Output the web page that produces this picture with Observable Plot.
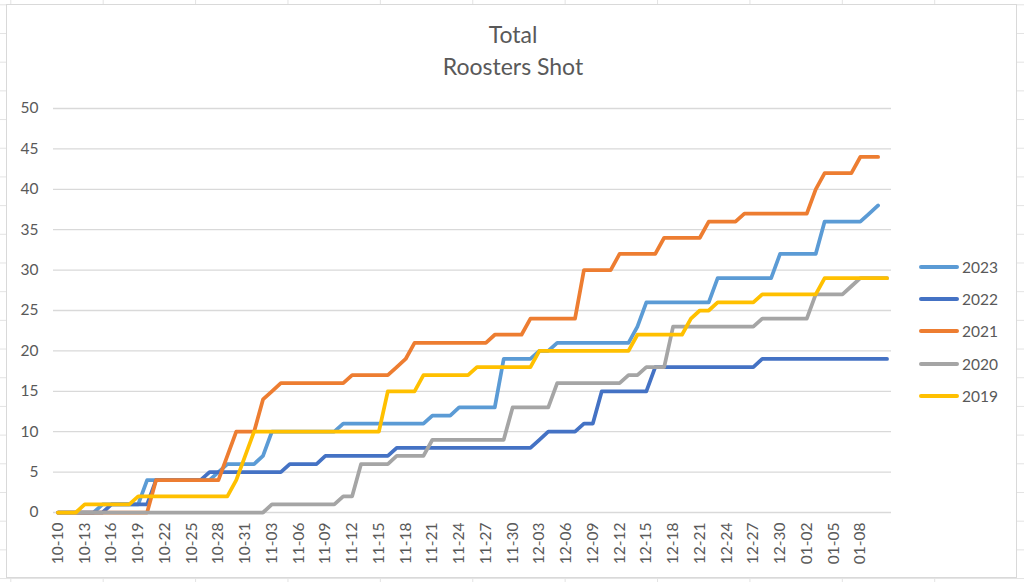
<!DOCTYPE html>
<html>
<head>
<meta charset="utf-8">
<script src="https://cdn.jsdelivr.net/npm/d3@7"></script>
<script src="https://cdn.jsdelivr.net/npm/@observablehq/plot@0.6"></script>
<style>
  html, body { margin: 0; padding: 0; }
  body {
    width: 1024px; height: 582px; position: relative; overflow: hidden;
    background-color: #fff;
    background-image:
      linear-gradient(to right, #e3e3e3 1px, transparent 1px),
      linear-gradient(to bottom, #e3e3e3 1px, transparent 1px);
    background-size: 92.4px 100%, 100% 28.7px;
    background-position: 10.3px 0, 0 4.3px;
    font-family: Lato, "Open Sans", sans-serif;
  }
  #frame {
    position: absolute; left: 6px; top: 4px; width: 1009px; height: 572px;
    background: #fff; border: 1px solid #d9d9d9;
  }
  .title {
    position: absolute; left: 0; width: 1026px; text-align: center;
    font-size: 23px; line-height: 32px; color: #595959;
  }
  #chart { position: absolute; left: 0; top: 90px; }
  #legend { position: absolute; left: 919px; top: 250.5px; }
  .item { display: flex; align-items: center; height: 32.3px; }
  .sw { width: 40px; height: 4px; border-radius: 2px; margin-right: 3px; }
  .lab { font-size: 15.5px; color: #595959; }
</style>
</head>
<body>
<div id="frame"></div>
<div class="title" style="top:18.4px">Total</div>
<div class="title" style="top:50.4px">Roosters Shot</div>
<div id="chart"></div>
<div id="legend"></div>
<script>
// Daily categories 10-10 .. 01-11
const dates = d3.utcDay.range(new Date(Date.UTC(2022, 9, 10)), new Date(Date.UTC(2023, 0, 12)))
  .map(d3.utcFormat("%m-%d"));

const tickLabels = ["10-10","10-13","10-16","10-19","10-22","10-25","10-28","10-31",
  "11-03","11-06","11-09","11-12","11-15","11-18","11-21","11-24","11-27","11-30",
  "12-03","12-06","12-09","12-12","12-15","12-18","12-21","12-24","12-27","12-30",
  "01-02","01-05","01-08"];

const yTicks = [0, 5, 10, 15, 20, 25, 30, 35, 40, 45, 50];

const seriesNames = ["2023", "2022", "2021", "2020", "2019"];
const seriesColors = ["#5B9BD5", "#4472C4", "#ED7D31", "#A5A5A5", "#FFC000"];

const s2023 = [
  0,0,0,0,0,1,1,1,1,1,
  4,4,4,4,4,4,4,4,5,6,
  6,6,6,7,10,10,10,10,10,10,
  10,10,11,11,11,11,11,11,11,11,
  11,11,12,12,12,13,13,13,13,13,
  19,19,19,19,20,20,21,21,21,21,
  21,21,21,21,21,23,26,26,26,26,
  26,26,26,26,29,29,29,29,29,29,
  29,32,32,32,32,32,36,36,36,36,
  36,37,38,null];

const s2022 = [
  0,0,0,0,0,0,1,1,1,1,
  1,4,4,4,4,4,4,5,5,5,
  5,5,5,5,5,5,6,6,6,6,
  7,7,7,7,7,7,7,7,8,8,
  8,8,8,8,8,8,8,8,8,8,
  8,8,8,8,9,10,10,10,10,11,
  11,15,15,15,15,15,15,18,18,18,
  18,18,18,18,18,18,18,18,18,19,
  19,19,19,19,19,19,19,19,19,19,
  19,19,19,19];

const s2021 = [
  0,0,0,0,0,0,0,0,0,0,
  0,4,4,4,4,4,4,4,4,7,
  10,10,10,14,15,16,16,16,16,16,
  16,16,16,17,17,17,17,17,18,19,
  21,21,21,21,21,21,21,21,21,22,
  22,22,22,24,24,24,24,24,24,30,
  30,30,30,32,32,32,32,32,34,34,
  34,34,34,36,36,36,36,37,37,37,
  37,37,37,37,37,40,42,42,42,42,
  44,44,44,null];

const s2020 = [
  0,0,0,0,0,0,0,0,0,0,
  0,0,0,0,0,0,0,0,0,0,
  0,0,0,0,1,1,1,1,1,1,
  1,1,2,2,6,6,6,6,7,7,
  7,7,9,9,9,9,9,9,9,9,
  9,13,13,13,13,13,16,16,16,16,
  16,16,16,16,17,17,18,18,18,23,
  23,23,23,23,23,23,23,23,23,24,
  24,24,24,24,24,27,27,27,27,28,
  29,29,29,29];

const s2019 = [
  0,0,0,1,1,1,1,1,1,2,
  2,2,2,2,2,2,2,2,2,2,
  4,7,10,10,10,10,10,10,10,10,
  10,10,10,10,10,10,10,15,15,15,
  15,17,17,17,17,17,17,18,18,18,
  18,18,18,18,20,20,20,20,20,20,
  20,20,20,20,20,22,22,22,22,22,
  22,24,25,25,26,26,26,26,26,27,
  27,27,27,27,27,27,29,29,29,29,
  29,29,29,29];

const seriesValues = [s2023, s2022, s2021, s2020, s2019];

const lineMarks = seriesNames.map((name, k) => {
  const rows = dates.map((d, i) => ({date: d, value: seriesValues[k][i]}))
    .filter(r => r.value !== null && r.value !== undefined);
  return Plot.line(rows, {
    x: "date", y: "value", stroke: seriesColors[k], strokeWidth: 3.75,
    strokeLinejoin: "round", strokeLinecap: "round"
  });
});

const chart = Plot.plot({
  width: 1024, height: 485,
  marginLeft: 53, marginRight: 133, marginTop: 18, marginBottom: 63,
  style: {fontFamily: "Lato, 'Open Sans', sans-serif", fontSize: "15.5px", color: "#595959", background: "transparent", overflow: "visible"},
  x: {type: "point", domain: dates, padding: 0.5, label: null},
  y: {domain: [0, 50], label: null},
  marks: [
    Plot.ruleY(yTicks, {stroke: "#d9d9d9", strokeWidth: 1.3}),
    Plot.axisY({ticks: yTicks, tickSize: 0, tickPadding: 15, label: null, fill: "#595959"}),
    Plot.axisX({ticks: tickLabels, tickSize: 0, tickRotate: -90, tickPadding: 10, label: null, fill: "#595959"}),
    ...lineMarks
  ]
});
document.getElementById("chart").appendChild(chart);

const legend = d3.select("#legend");
seriesNames.forEach((name, k) => {
  const it = legend.append("div").attr("class", "item");
  it.append("div").attr("class", "sw").style("background", seriesColors[k]);
  it.append("span").attr("class", "lab").text(name);
});
</script>
</body>
</html>
